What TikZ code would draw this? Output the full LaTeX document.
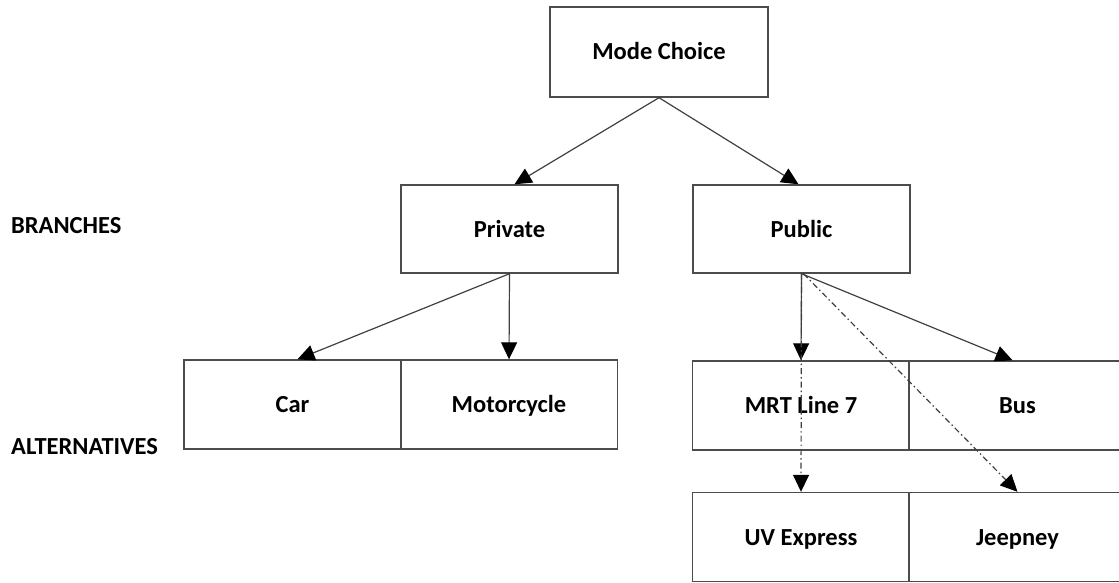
\documentclass[tikz,border=0pt]{standalone}
\usepackage{fontspec}
\setmainfont{Carlito}
\usetikzlibrary{arrows.meta,calc}
\begin{document}
\begin{tikzpicture}[x=1pt,y=-1pt,
  box/.style={draw=black!70,line width=1.4pt,minimum width=217pt,minimum height=89pt,inner sep=0pt,text height=19pt,text depth=3pt,font=\fontsize{24.5}{28}\selectfont\bfseries},
  lbl/.style={anchor=west,inner sep=0pt,font=\fontsize{24.5}{28}\selectfont\bfseries},
  arr/.style={draw=black!75,line width=1.2pt,-{Triangle[length=17pt,width=16pt,color=black]}},
  darr/.style={arr,dash pattern=on 6pt off 3pt on 1.5pt off 3pt}]
\useasboundingbox (0,0) rectangle (1119,583);
\node[box,minimum width=218pt,minimum height=90pt] (mode) at (659,52) {Mode Choice};
\node[box,minimum height=88pt] (private) at (509.5,229) {Private};
\node[box,minimum height=88pt] (public) at (801.5,229) {Public};
\node[box] (car) at (292.5,404.5) {Car};
\node[box] (moto) at (509,404.5) {Motorcycle};
\node[box] (mrt) at (801,405.5) {MRT Line 7};
\node[box] (bus) at (1017.5,405.5) {Bus};
\node[box] (uv) at (801,537) {UV Express};
\node[box] (jeep) at (1017.5,537) {Jeepney};
\node[lbl] (branches) at (11,226) {BRANCHES};
\node[lbl] (alts) at (11,447) {ALTERNATIVES};
\draw[arr] (mode.south) -- ($(private.north)+(5,0)$);
\draw[arr] (mode.south) -- ($(public.north)+(-3,0)$);
\draw[arr] (private.south) -- ($(car.north)+(5,0)$);
\draw[arr] (private.south) -- (moto.north);
\draw[arr] (public.south) -- (mrt.north);
\draw[arr] (public.south) -- ($(bus.north)+(-5,0)$);
\draw[darr] (public.south) -- (uv.north);
\draw[darr] ($(public.south)+(2,0)$) -- (jeep.north);
\end{tikzpicture}
\end{document}
